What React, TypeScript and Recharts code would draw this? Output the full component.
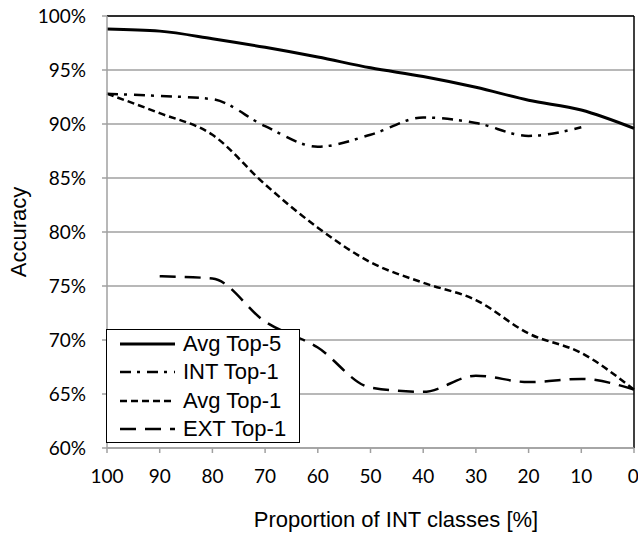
import React from "react";
import {
  LineChart,
  Line,
  XAxis,
  YAxis,
  CartesianGrid,
  ReferenceLine,
  Legend,
} from "recharts";

const proportions = [100, 90, 80, 70, 60, 50, 40, 30, 20, 10, 0];
const avgTop5 = [98.8, 98.6, 97.9, 97.1, 96.2, 95.2, 94.4, 93.4, 92.2, 91.3, 89.6];
const intTop1 = [92.8, 92.6, 92.3, 89.8, 87.9, 89.0, 90.6, 90.1, 88.9, 89.7, null];
const avgTop1 = [92.8, 91.0, 89.0, 84.4, 80.4, 77.2, 75.3, 73.7, 70.6, 68.8, 65.4];
const extTop1 = [null, 75.9, 75.7, 71.7, 69.3, 65.6, 65.2, 66.7, 66.1, 66.4, 65.4];
const yTicks = [60, 65, 70, 75, 80, 85, 90, 95, 100];

const series = [
  { key: "avgTop5", name: "Avg Top-5", width: 3, dash: undefined as string | undefined },
  { key: "intTop1", name: "INT Top-1", width: 2.5, dash: "11 6 3 7" },
  { key: "avgTop1", name: "Avg Top-1", width: 2.5, dash: "7 4" },
  { key: "extTop1", name: "EXT Top-1", width: 2.5, dash: "16 9" },
];

const data = proportions.map((p, i) => ({
  p,
  avgTop5: avgTop5[i],
  intTop1: intTop1[i],
  avgTop1: avgTop1[i],
  extTop1: extTop1[i],
}));

const tickFont = { fontFamily: "Lato", fontSize: 19, fill: "#000" };
const labelFont = "'Liberation Sans', Arial, sans-serif";

function LegendBox() {
  return (
    <div
      style={{
        width: 194,
        height: 114,
        border: "1.5px solid #000",
        background: "#fff",
        fontFamily: labelFont,
        fontSize: 22,
        color: "#000",
        paddingTop: 0,
        boxSizing: "border-box",
      }}
    >
      {series.map((s) => (
        <div
          key={s.key}
          style={{ display: "flex", alignItems: "center", height: 28.3, whiteSpace: "nowrap" }}
        >
          <svg width={70} height={10} style={{ flex: "none" }}>
            <line
              x1={13}
              x2={68}
              y1={5}
              y2={5}
              stroke="#000"
              strokeWidth={s.width}
              strokeDasharray={s.dash}
            />
          </svg>
          <span style={{ marginLeft: 6 }}>{s.name}</span>
        </div>
      ))}
    </div>
  );
}

export default function App() {
  return (
    <div style={{ position: "absolute", left: 0, top: 0, width: 638, height: 537, background: "#fff" }}>
      <LineChart
        width={638}
        height={537}
        data={data}
        margin={{ top: 16, right: 4, left: 0, bottom: 0 }}
      >
        <CartesianGrid horizontal vertical={false} stroke="#a0a0a0" strokeWidth={1.5} />
        <XAxis
          dataKey="p"
          type="number"
          domain={[0, 100]}
          reversed
          ticks={proportions}
          height={89}
          tick={tickFont}
          tickSize={5}
          tickMargin={17}
          stroke="#a0a0a0"
          strokeWidth={1.5}
          label={{
            content: () => (
              <text
                x={396}
                y={527}
                textAnchor="middle"
                fontFamily={labelFont}
                fontSize={22}
                fill="#000"
              >
                Proportion of INT classes [%]
              </text>
            ),
          }}
        />
        <YAxis
          type="number"
          domain={[60, 100]}
          ticks={yTicks}
          width={107}
          tick={tickFont}
          tickFormatter={(v) => `${v}%`}
          tickSize={5}
          tickMargin={16}
          stroke="#a0a0a0"
          strokeWidth={1.5}
          label={{
            content: () => (
              <text
                x={26}
                y={232}
                transform="rotate(-90 26 232)"
                textAnchor="middle"
                fontFamily={labelFont}
                fontSize={22}
                fill="#000"
              >
                Accuracy
              </text>
            ),
          }}
        />
        <ReferenceLine y={100} stroke="#000" strokeWidth={1.5} />
        <ReferenceLine x={0} stroke="#000" strokeWidth={1.5} />
        {series.map((s) => (
          <Line
            key={s.key}
            type="monotone"
            dataKey={s.key}
            name={s.name}
            stroke="#000"
            strokeWidth={s.width}
            strokeDasharray={s.dash}
            dot={false}
            activeDot={false}
            connectNulls={false}
            isAnimationActive={false}
          />
        ))}
        <Legend
          layout="horizontal"
          verticalAlign="middle"
          align="center"
          content={() => <LegendBox />}
          wrapperStyle={{ left: 106, top: 329, width: 196, height: 116 }}
        />
      </LineChart>
    </div>
  );
}
